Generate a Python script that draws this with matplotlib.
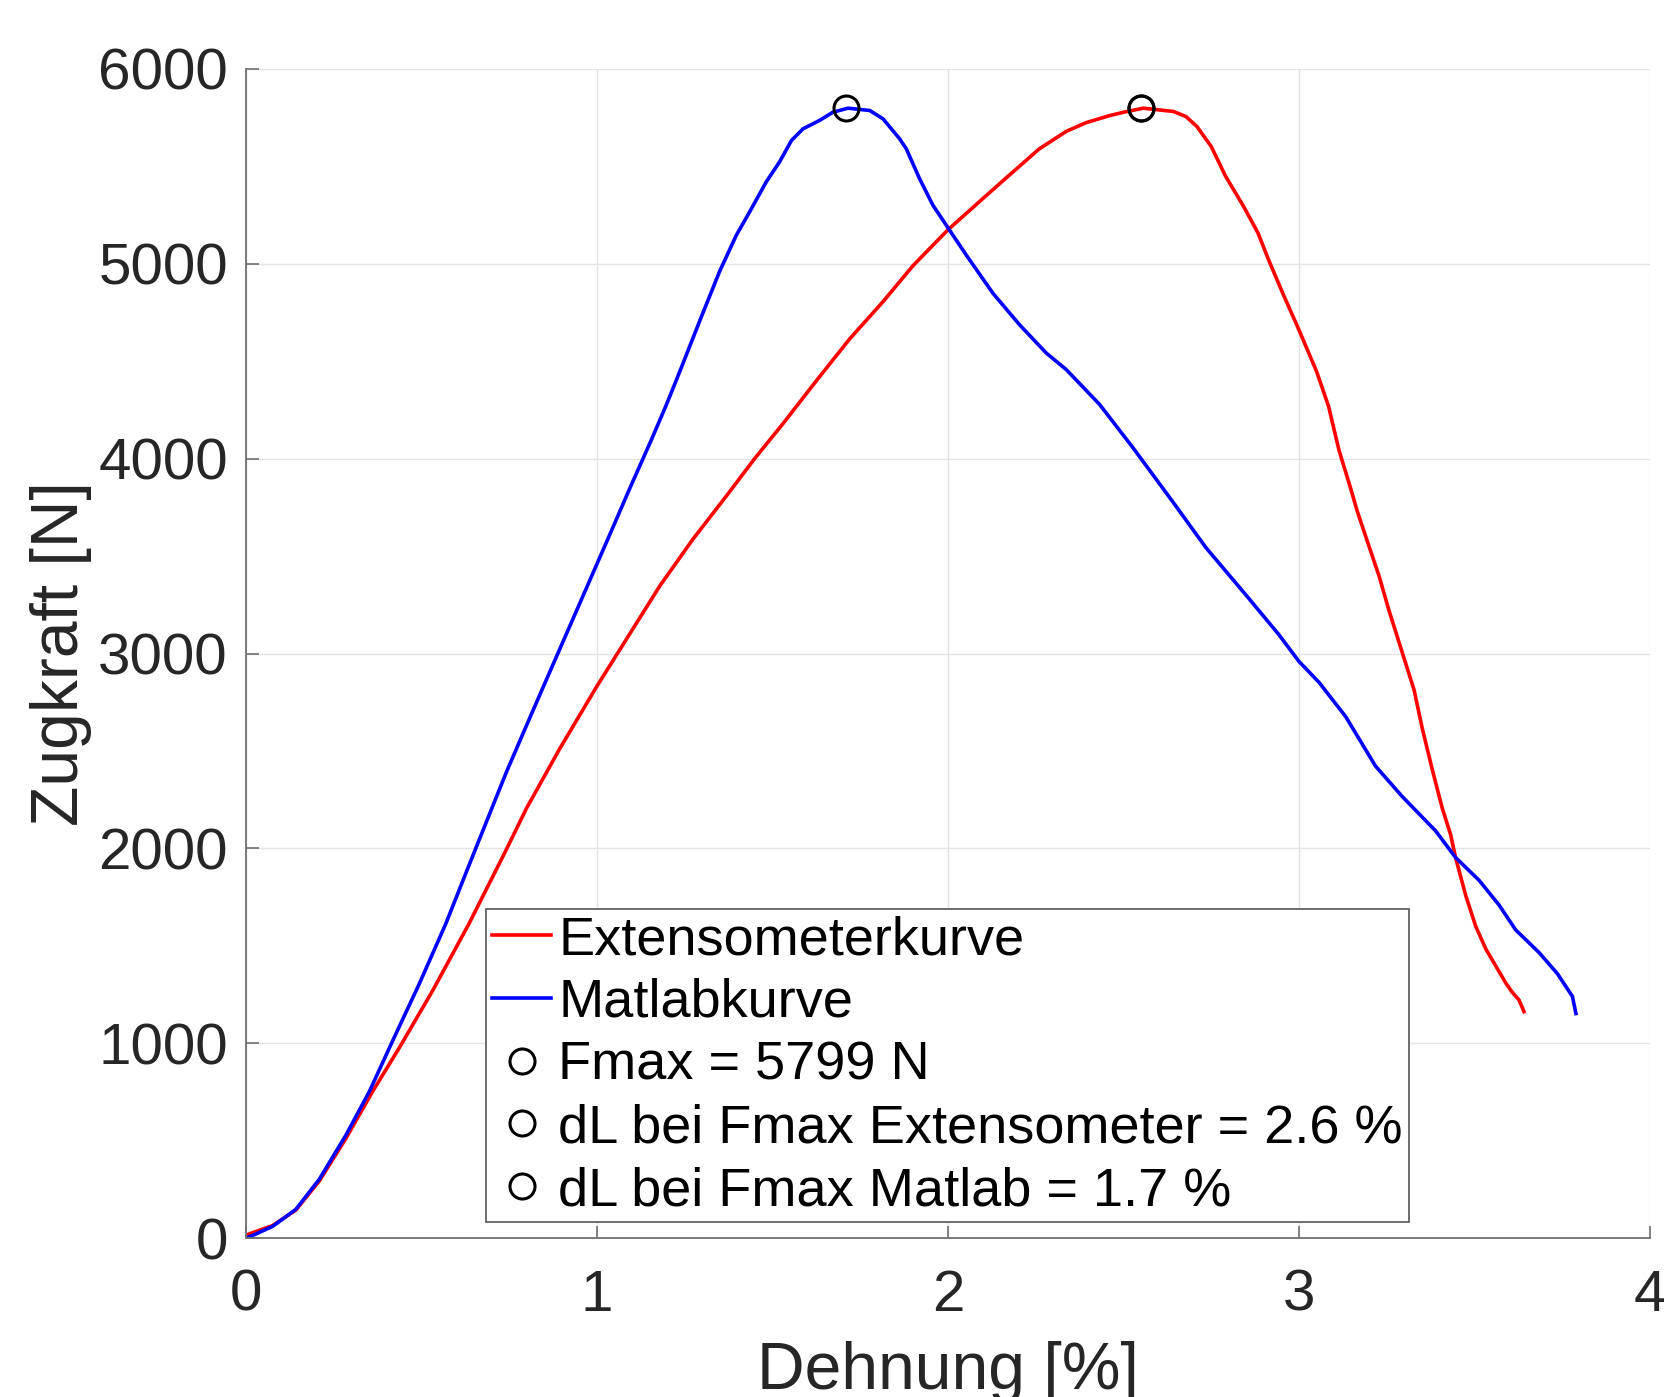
import matplotlib
matplotlib.use("Agg")
import matplotlib.pyplot as plt

plt.rcParams['font.family'] = ['Liberation Sans', 'DejaVu Sans']

# Matlabkurve (blue)
matlab_x = [0.000, 0.014, 0.076, 0.142, 0.209, 0.284, 0.351, 0.417, 0.493, 0.569,
            0.632, 0.666, 0.742, 0.799, 0.846, 0.894, 0.951, 0.998, 1.046, 1.093,
            1.155, 1.198, 1.236, 1.292, 1.349, 1.397, 1.435, 1.482, 1.520, 1.554,
            1.587, 1.634, 1.672, 1.715, 1.777, 1.815, 1.862, 1.881, 1.919, 1.957,
            2.000, 2.052, 2.128, 2.204, 2.280, 2.337, 2.432, 2.527, 2.637, 2.735,
            2.855, 2.943, 3.000, 3.057, 3.133, 3.218, 3.294, 3.389, 3.446, 3.513,
            3.570, 3.617, 3.684, 3.736, 3.779, 3.789]
matlab_y = [0, 9, 60, 147, 302, 526, 750, 1009, 1302, 1612,
            1898, 2051, 2392, 2630, 2825, 3023, 3258, 3452, 3650, 3846,
            4097, 4278, 4448, 4704, 4960, 5147, 5267, 5420, 5523, 5633,
            5693, 5736, 5778, 5799, 5787, 5744, 5642, 5591, 5437, 5301,
            5185, 5045, 4849, 4687, 4542, 4457, 4278, 4056, 3787, 3543,
            3287, 3096, 2959, 2852, 2676, 2422, 2266, 2090, 1953, 1836,
            1709, 1582, 1465, 1357, 1240, 1152]

# Extensometerkurve (red)
ext_x = [0.000, 0.076, 0.142, 0.209, 0.284, 0.360, 0.436, 0.531, 0.635, 0.741,
         0.799, 0.894, 0.998, 1.084, 1.179, 1.273, 1.368, 1.449, 1.530, 1.625,
         1.720, 1.815, 1.900, 2.000, 2.090, 2.165, 2.260, 2.337, 2.394,
         2.461, 2.500, 2.556, 2.642, 2.678, 2.709, 2.750, 2.791, 2.842, 2.883,
         2.913, 2.954, 3.000, 3.050, 3.084, 3.114, 3.147, 3.166, 3.195, 3.228,
         3.256, 3.280, 3.304, 3.328, 3.351, 3.380, 3.408, 3.432, 3.446, 3.475,
         3.503, 3.532, 3.589, 3.608, 3.627, 3.641]
ext_y = [15, 64, 143, 293, 509, 750, 974, 1267, 1612, 1991,
         2205, 2512, 2827, 3074, 3347, 3586, 3807, 4000, 4180, 4400,
         4615, 4806, 4990, 5175, 5320, 5440, 5590, 5680, 5725,
         5761, 5778, 5799, 5782, 5756, 5705, 5602, 5449, 5295, 5159,
         5022, 4848, 4660, 4448, 4270, 4043, 3848, 3730, 3574, 3398,
         3223, 3086, 2949, 2812, 2617, 2402, 2207, 2070, 1953, 1758,
         1602, 1484, 1309, 1260, 1221, 1162]

fmax = 5799
dl_ext = 2.55
dl_matlab = 1.71

labels = ["Extensometerkurve", "Matlabkurve", "Fmax = 5799 N",
          "dL bei Fmax Extensometer = 2.6 %", "dL bei Fmax Matlab = 1.7 %"]
x_ticks = [0, 1, 2, 3, 4]
y_ticks = [0, 1000, 2000, 3000, 4000, 5000, 6000]

fig = plt.figure(figsize=(16.64, 13.97), dpi=100)
ax = fig.add_axes([246/1664, 159/1397, 1404/1664, 1169/1397])

ax.plot(ext_x, ext_y, color='#ff0000', lw=2.6, label=labels[0])
ax.plot(matlab_x, matlab_y, color='#0000ff', lw=2.6, label=labels[1])
mk = dict(marker='o', ms=18, mfc='none', mec='black', mew=2.2, ls='none')
ax.plot([dl_ext], [fmax], label=labels[2], **mk)
ax.plot([dl_ext], [fmax], label=labels[3], **mk)
ax.plot([dl_matlab], [fmax], label=labels[4], **mk)

ax.set_xlim(0, 4)
ax.set_ylim(0, 6000)
ax.set_xticks(x_ticks)
ax.set_yticks(y_ticks)
ax.set_xticklabels([str(v) for v in x_ticks])
ax.set_yticklabels([str(v) for v in y_ticks])

ax.grid(True, color='#e3e3e3', lw=1.0)
ax.set_axisbelow(True)
for s in ['top', 'right']:
    ax.spines[s].set_visible(False)
for s in ['left', 'bottom']:
    ax.spines[s].set_color('#707070')
    ax.spines[s].set_linewidth(1.3)

ax.tick_params(direction='in', length=9, width=1.2, color='#707070',
               labelsize=42, labelcolor='#262626')
ax.tick_params(axis='y', pad=13)
ax.tick_params(axis='x', pad=22)

ax.set_xlabel("Dehnung [%]", fontsize=47.5, color='#262626')
ax.set_ylabel("Zugkraft [N]", fontsize=47.5, color='#262626')
ax.xaxis.set_label_coords(0.5, -0.088)
ax.yaxis.set_label_coords(-0.110, 0.5)

leg = ax.legend(loc='lower left', bbox_to_anchor=(0.171, 0.0137), borderaxespad=0,
                fontsize=39, frameon=True, fancybox=False, framealpha=1,
                edgecolor='#555555', borderpad=0.11, labelspacing=0.235,
                handlelength=1.09, handletextpad=0.13)
leg.get_frame().set_linewidth(1.2)

fig.savefig("out.png", dpi=100)
